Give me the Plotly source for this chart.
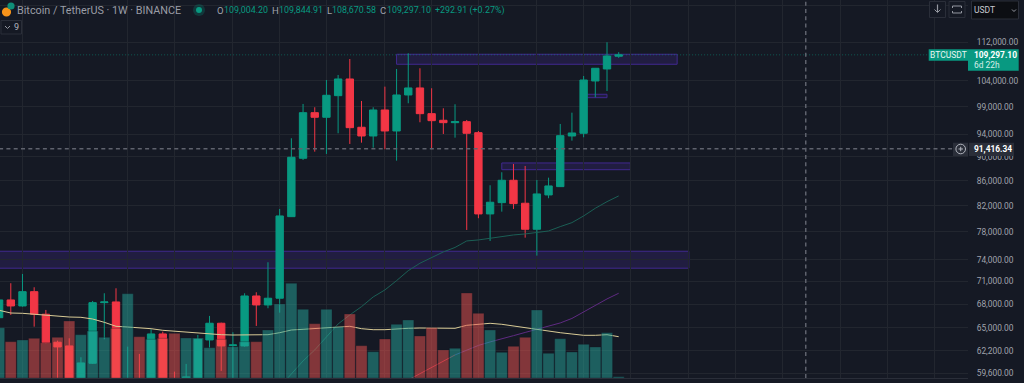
import math
import plotly.graph_objects as go

# ---------- DATA ----------
week_index = list(range(54))
opens = [66252,68530,67750,69621,66691,63228,62784,58288,60746,68179,68270,58288,58848,58288,64233,58288,
         58960,58848,63504,65556,62830,62784,69049,67880,68754,80310,89755,97897,97041,101120,104383,95214,
         93648,98399,94543,101254,102615,97711,96488,96052,96233,94239,80727,82482,86071,82388,78405,83700,
         85034,93648,94131,103987,106391,109004.20]
highs = [68920,70748,72006,70205,67237,63420,63704,61446,68400,69408,70070,62700,61835,64806,64516,59787,
         60668,64110,66475,65630,64442,69408,69541,73631,81495,93240,99534,98910,104183,105185,108435,100101,
         98910,102870,106391,109621,106534,102556,98720,99477,96543,94543,85261,87394,88787,88449,86120,86498,
         95815,97897,104983,106594,111940,109844.91]
lows = [65844,66600,67660,65131,63108,59075,57738,57960,60668,63581,57738,57180,57520,57960,57738,57520,
        58288,58625,62580,59866,58288,62700,65219,67455,66894,80264,89463,90891,90495,94131,92236,92463,
        91588,91308,89345,99666,96124,91308,94006,93344,78300,80069,76679,81079,81495,77160,74566,83176,
        84986,92813,93415,100809,102025,108670.58]
closes = [68530,67750,69621,66691,63180,62664,58288,60784,68179,68270,58288,58848,58288,64233,58288,57960,
          59188,63581,65556,62784,62904,69049,67880,68754,80417,89927,97897,97041,101195,104383,95142,93648,
          98399,94543,101254,102615,97711,96416,96052,96233,94131,80727,82544,86071,82326,78405,83860,85148,
          93702,94185,104183,106534,109059,109297.10]
volumes = [50.3,36.3,38,39.7,35.3,40.7,57,43.3,47,40.7,49.7,84.3,41.3,38.7,39.7,44.7,40,40,30.3,38.7,31.3,
           36.3,36.3,48,74,94.7,68.7,54.3,68.7,51.3,64,32.3,26.3,39,53.7,58,42,50.3,28,29.7,85,64.7,48,25.7,
           31.7,40.7,68,24.7,39.3,26,33.7,31,45.3,1.3]
volume_ma = [67.7,65,64.7,63.7,62.7,61.7,61,60.7,59,55.7,51.7,51,50.3,49.3,47.7,46.7,46,45,44,43.3,43,43,
             43.3,43.3,45.3,48,48.7,49.3,50,50.7,51.7,49.3,48.3,48.3,49.3,49.7,50,50,49.7,49.7,52.7,54,54.7,
             53.7,52,49.7,48,47,45.3,44,42.7,42.7,43.3,41.3]
green_ma_weeks = list(range(24, 54))
green_ma = [58064,59523,61016,62307,63864,65469,66600,67660,68923,69847,71096,72462,73491,74310,75091,75737,
            76679,76824,77076,77412,77560,77708,77900,78150,78800,79400,80417,81604,82638,83542]
red_ma_weeks = [35,36,37,38,39]
red_ma = [58848,59546,60209,61016,61717]
blue_ma_weeks = [39,40,41,42]
blue_ma = [61717,62307,62844,63264]
purple_ma_weeks = [42,43,44,45,46,47,48,49,50,51,52,53]
purple_ma = [63264,63680,64024,64418,64806,65156,65594,66158,66983,67807,68663,69408]

grid_weeks = [2,6,11,15,20,24,28,33,37,41,46,50,54,59,63,67,72,76,80]
price_ticks = [120000,112000,104000,99000,94000,90000,86000,82000,78000,74000,71000,68000,65000,62200,59600]
price_tick_labels = ["","112,000.00","104,000.00","99,000.00","94,000.00","90,000.00","86,000.00","82,000.00",
                     "78,000.00","74,000.00","71,000.00","68,000.00","65,000.00","62,200.00","59,600.00"]
last_price = 109297.10
cursor_price = 91416.34
cursor_week = 69.0
# zones: week_from, week_to, price_low, price_high
zones = [(34,58,107350,109413),(50,52,100732,101388),(43,54,87824,88956),(-1,59,72799,75190)]

# ---------- STYLE ----------
W, H = 1024, 383
BG = "#151924"
GREEN = "#089981"
RED = "#f23645"
GRID = "#22262f"
TXT = "#a0a3ac"
FONT = "Roboto"
PLOT_R = 968
PLOT_B = 378
px = lambda x: x / W
py = lambda y: 1 - y / H

fig = go.Figure()
fig.add_trace(go.Candlestick(
    x=week_index, open=opens, high=highs, low=lows, close=closes, yaxis="y", whiskerwidth=0,
    increasing=dict(line=dict(color=GREEN, width=1), fillcolor=GREEN),
    decreasing=dict(line=dict(color=RED, width=1), fillcolor=RED),
    hoverinfo="skip", showlegend=False))
for wk, vals, col in [(green_ma_weeks, green_ma, "#1b5f55"), (red_ma_weeks, red_ma, "#a82c45"),
                      (blue_ma_weeks, blue_ma, "#3c3a8c"), (purple_ma_weeks, purple_ma, "#5f2a82")]:
    fig.add_trace(go.Scatter(x=wk, y=vals, mode="lines", line=dict(color=col, width=1),
                             yaxis="y", hoverinfo="skip", showlegend=False))
fig.add_trace(go.Scatter(x=week_index, y=volume_ma, mode="lines", line=dict(color="#d9cb96", width=1),
                         yaxis="y2", hoverinfo="skip", showlegend=False))
bar_colors = ["rgba(38,166,154,0.5)" if c >= o else "rgba(239,83,80,0.5)" for o, c in zip(opens, closes)]
fig.add_trace(go.Bar(x=week_index, y=volumes, yaxis="y3", marker=dict(color=bar_colors, line=dict(width=0.5, color="rgba(21,25,36,0.6)")),
                     hoverinfo="skip", showlegend=False))

shapes = []
for w0, w1, p0, p1 in zones:
    shapes.append(dict(type="rect", xref="x", yref="y", x0=w0, x1=w1, y0=p0, y1=p1, layer="below",
                       fillcolor="rgba(76,44,170,0.22)", line=dict(color="#40298f", width=1)))
shapes.append(dict(type="line", xref="x", yref="y", x0=0, x1=82.88, y0=last_price, y1=last_price, layer="below",
                   line=dict(color="rgba(8,153,129,0.5)", width=1, dash="1px,2px")))
shapes.append(dict(type="line", xref="x", yref="y", x0=0, x1=82.88, y0=cursor_price, y1=cursor_price,
                   line=dict(color="#5f626d", width=1.5, dash="4px,3.3px")))
shapes.append(dict(type="line", xref="x", yref="paper", x0=cursor_week, x1=cursor_week, y0=py(378), y1=1,
                   line=dict(color="#5f626d", width=1.5, dash="4px,3.3px")))


def rect(x0, y0, x1, y1, fill, line=None, lw=1):
    shapes.append(dict(type="rect", xref="paper", yref="paper", x0=px(x0), x1=px(x1), y0=py(y1), y1=py(y0),
                       fillcolor=fill, line=dict(color=line or fill, width=lw if line else 0)))


def circle(cx, cy, r, fill, line=None, lw=1):
    shapes.append(dict(type="circle", xref="paper", yref="paper", x0=px(cx - r), x1=px(cx + r), y0=py(cy + r), y1=py(cy - r),
                       fillcolor=fill, line=dict(color=line or fill, width=lw if line else 0)))


def polyline(points, color, lw=1):
    d = "M" + " L".join(f"{px(x):.5f},{py(y):.5f}" for x, y in points)
    shapes.append(dict(type="path", xref="paper", yref="paper", path=d, line=dict(color=color, width=lw)))


# header icons
circle(6.5, 12, 4.6, "#f7931a")
circle(11, 6, 3.6, "#0f8f78")
circle(199, 10, 6, "rgba(8,153,129,0.25)")
circle(199, 10, 3, GREEN)
# collapse button
rect(1, 20.5, 21.5, 34, BG, "#2a2e39")
polyline([(5, 26), (7.5, 28.5), (10, 26)], "#9598a1", 1)
# top-right buttons
rect(929.5, 1.5, 945.5, 17.5, BG, "#2a2e39")
polyline([(937.5, 4.5), (937.5, 12)], "#9598a1", 1.2)
polyline([(934.5, 9.5), (937.5, 12.5), (940.5, 9.5)], "#9598a1", 1)
rect(949, 1.5, 965, 17.5, BG, "#2a2e39")
polyline([(952.5, 8), (952.5, 6), (961.5, 6), (961.5, 8)], "#9598a1", 1)
polyline([(952.5, 11), (952.5, 13), (961.5, 13), (961.5, 11)], "#9598a1", 1)
rect(971.5, 1, 1018.5, 19, "#0c0e13", "#2a2e39")
polyline([(1012, 9.5), (1014, 11.5), (1016, 9.5)], "#9598a1", 1)
# last-price tags
rect(928.7, 49.3, 968, 60.7, GREEN)
rect(968, 49.3, 1018.7, 70.7, GREEN)
# cursor tags
rect(953, 142.7, 968, 156, "#2a2e39")
rect(969, 142.7, 1014, 156, "#2a2e39")
circle(960.7, 149, 4.8, "rgba(0,0,0,0)", "#b2b5be", 1)
polyline([(958.5, 149), (963, 149)], "#b2b5be", 1)
polyline([(960.7, 146.8), (960.7, 151.2)], "#b2b5be", 1)


def label(x, y, text, color=TXT, size=8.9, anchor="left"):
    return dict(xref="paper", yref="paper", x=px(x), y=py(y), text=text, showarrow=False, xanchor=anchor,
                yanchor="middle", font=dict(family=FONT, size=size, color=color), borderpad=0, borderwidth=0)


annotations = [
    label(17, 10, "Bitcoin / TetherUS · 1W · BINANCE", "#9a9da6", 10.8),
    label(14, 27, "9", "#b2b5be", 9),
    label(216.5, 10, "O", TXT, 9.5), label(224, 10, "109,004.20", GREEN),
    label(271.5, 10, "H", TXT, 9.5), label(279, 10, "109,844.91", GREEN),
    label(326.5, 10, "L", TXT, 9.5), label(332, 10, "108,670.58", GREEN),
    label(380, 10, "C", TXT, 9.5), label(387, 10, "109,297.10", GREEN),
    label(435, 10, "+292.91 (+0.27%)", GREEN),
    label(974, 10, "USDT", "#c8cad0", 8.5),
    label(948.3, 55, "BTCUSDT", "#e8f5f2", 8.5, "center"),
    label(974, 54.7, "<b>109,297.10</b>", "#ffffff", 8.4),
    label(974, 64.5, "6d 22h", "#d5efe9", 8.4),
    label(974, 149.3, "<b>91,416.34</b>", "#ffffff", 8.4),
]

log_top = math.log10(112000) + 42 / 525.1 / math.log(10)
log_bottom = math.log10(112000) - (PLOT_B - 42) / 525.1 / math.log(10)

fig.update_layout(
    width=W, height=H, margin=dict(l=0, r=0, t=0, b=0, pad=0),
    paper_bgcolor=BG, plot_bgcolor=BG, showlegend=False, bargap=0.05, boxgap=0.1,
    shapes=shapes, annotations=annotations, hovermode=False,
    font=dict(family=FONT, color=TXT),
    xaxis=dict(domain=[0, PLOT_R / W], range=[0.077, 82.88], tickvals=grid_weeks, showticklabels=False,
               gridcolor=GRID, gridwidth=1, zeroline=False, rangeslider=dict(visible=False), ticks="",
               showline=True, linecolor="#2a2e39", linewidth=1, anchor="y", fixedrange=True),
    yaxis=dict(domain=[(H - PLOT_B) / H, 1], type="log", range=[log_bottom, log_top], side="right",
               tickvals=price_ticks, ticktext=price_tick_labels, gridcolor=GRID, gridwidth=1, zeroline=False,
               ticks="outside", ticklen=6, tickcolor="rgba(0,0,0,0)", tickfont=dict(family=FONT, size=8.4, color=TXT),
               automargin=False, showline=False, fixedrange=True),
    yaxis2=dict(overlaying="y", range=[0, PLOT_B], visible=False, fixedrange=True),
    yaxis3=dict(overlaying="y", range=[0, PLOT_B], visible=False, fixedrange=True),
)
fig.write_html("out.html", config=dict(displayModeBar=False),
               post_script="document.body.style.margin='0';document.body.style.background='#151924';document.body.style.overflow='hidden';")
